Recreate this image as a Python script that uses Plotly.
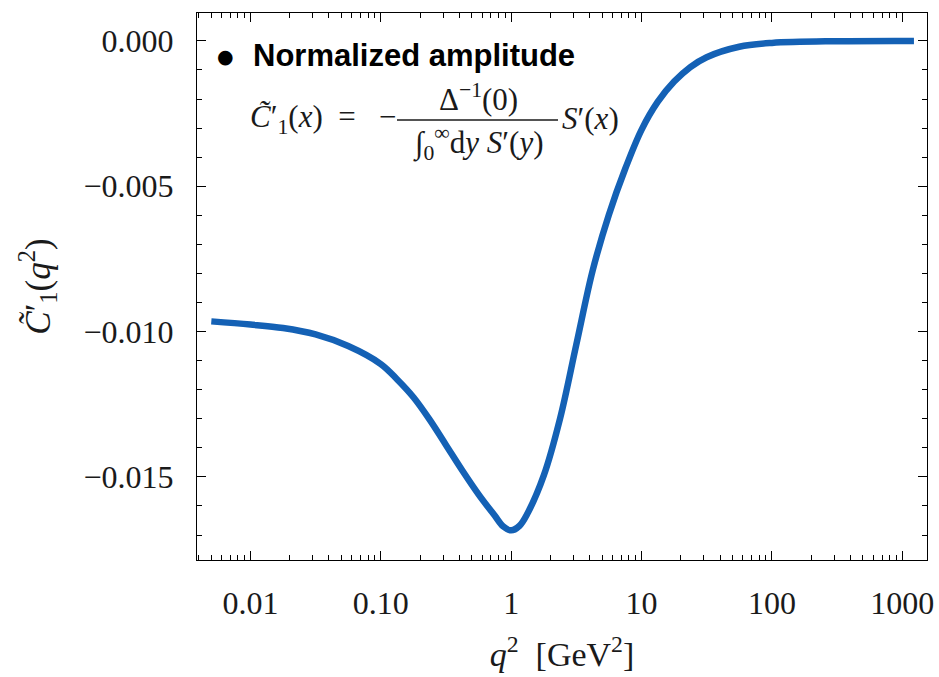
import plotly.graph_objects as go

q2 = [0.00501, 0.01, 0.0178, 0.0316, 0.0562, 0.1, 0.133, 0.178, 0.237, 0.316, 0.422,
      0.562, 0.750, 0.866, 1.0, 1.155, 1.33, 1.78, 2.37, 3.16, 4.22, 5.62, 7.50, 10.0, 13.3, 17.8,
      23.7, 31.6, 56.2, 100.0, 316.0, 1230.0]
c1 = [-0.00965, -0.00976, -0.00988, -0.01010, -0.01050, -0.01112, -0.01164, -0.01226,
      -0.01303, -0.01390, -0.01478, -0.01560, -0.01634, -0.01670, -0.01684, -0.01669, -0.01627,
      -0.01495, -0.01300, -0.01045, -0.00790, -0.00598, -0.00440, -0.00306, -0.00210, -0.00140,
      -0.00090, -0.00056, -0.00020, -0.00007, -0.00001, 0.0]

xtick_vals = [0.01, 0.1, 1, 10, 100, 1000]
xtick_text = ["0.01", "0.10", "1", "10", "100", "1000"]
ytick_vals = [0.0, -0.005, -0.010, -0.015]
ytick_text = ["0.000", "\u22120.005", "\u22120.010", "\u22120.015"]

xminor = [m * 10 ** e for e in range(-3, 4) for m in range(2, 10)]

SERIF = "Liberation Serif"
INK = "#1a1a1a"
fig = go.Figure()
fig.add_trace(go.Scatter(x=q2, y=c1, mode="lines",
                         line=dict(color="#1461b5", width=6.5, shape="spline", smoothing=1.0),
                         showlegend=False, hoverinfo="skip"))

axis_common = dict(showline=True, linecolor="black", linewidth=1.2, mirror="allticks",
                   ticks="inside", ticklen=9, tickwidth=1, tickcolor="black",
                   showgrid=False, zeroline=False, automargin=False,
                   tickfont=dict(family=SERIF, size=32, color=INK))

fig.update_xaxes(type="log", range=[-2.41, 3.19], tickvals=xtick_vals, ticktext=xtick_text,
                 minor=dict(tickvals=xminor, ticks="inside", ticklen=5, tickcolor="black", showgrid=False),
                 title=dict(text="<i>q</i><sup>2</sup>  [GeV<sup>2</sup>]",
                            font=dict(family=SERIF, size=34, color=INK), standoff=22),
                 ticklabelstandoff=14,
                 **axis_common)
fig.update_yaxes(range=[-0.01786, 0.00096], tickvals=ytick_vals, ticktext=ytick_text,
                 minor=dict(dtick=0.001, tick0=0, ticks="inside", ticklen=5, tickcolor="black", showgrid=False),
                 title=dict(text="<i>C\u0303</i>\u2032<sub>1</sub>(<i>q</i><sup>2</sup>)",
                            font=dict(family=SERIF, size=35, color=INK), standoff=22),
                 ticklabelstandoff=16,
                 **axis_common)

fig.update_layout(width=939, height=677, margin=dict(l=197, r=12, t=13, b=117),
                  plot_bgcolor="white", paper_bgcolor="white")

# plot-area pixel -> paper fraction
def px(x):
    return (x - 197) / 730

def py(y):
    return (560 - y) / 547

ann = dict(xref="paper", yref="paper", showarrow=False)
# legend-like label
fig.add_annotation(x=px(225), y=py(56), text="\u25cf", xanchor="center", yanchor="middle",
                   font=dict(family="DejaVu Sans", size=19, color="black"), **ann)
fig.add_annotation(x=px(251), y=py(55), text="<b>Normalized amplitude</b>", xanchor="left", yanchor="middle",
                   font=dict(family="Liberation Sans", size=31, color="black"), **ann)
# formula
fig.add_annotation(x=px(248), y=py(119),
                   text="<i>C\u0303</i>\u2032<sub>1</sub>(<i>x</i>)&nbsp;&nbsp;=&nbsp;&nbsp;&nbsp;\u2212",
                   xanchor="left", yanchor="middle", font=dict(family=SERIF, size=31, color=INK), **ann)
fig.add_annotation(x=px(478), y=py(97), text="\u0394<sup>\u22121</sup>(0)",
                   xanchor="center", yanchor="middle", font=dict(family=SERIF, size=31, color=INK), **ann)
fig.add_annotation(x=px(478), y=py(143), text="\u222b<sub>0</sub><sup>\u221e</sup>d<i>y</i> <i>S</i>\u2032(<i>y</i>)",
                   xanchor="center", yanchor="middle", font=dict(family=SERIF, size=31, color=INK), **ann)
fig.add_shape(type="line", xref="paper", yref="paper", x0=px(397), x1=px(558), y0=py(120), y1=py(120),
              line=dict(color=INK, width=1.4))
fig.add_annotation(x=px(560), y=py(119), text="<i>S</i>\u2032(<i>x</i>)",
                   xanchor="left", yanchor="middle", font=dict(family=SERIF, size=31, color=INK), **ann)

fig.write_html("out.html", config={"displayModeBar": False},
               post_script="document.body.style.margin='0';document.body.style.overflow='hidden';")
